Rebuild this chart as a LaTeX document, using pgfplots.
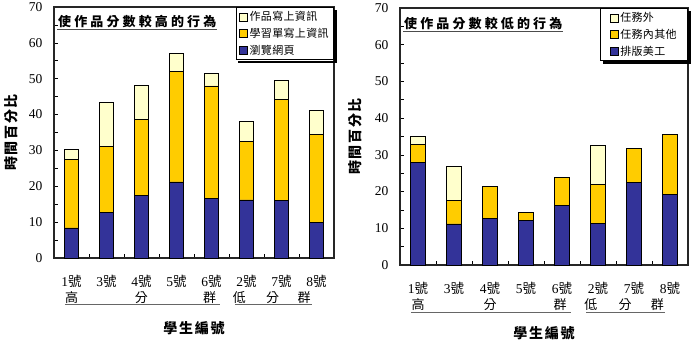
\documentclass[border=0pt]{standalone}
\usepackage{fontspec}
\setmainfont{Liberation Serif}
\newfontfamily\cjk{Noto Sans CJK TC}
\newfontfamily\cjktitle[LetterSpace=24]{Noto Sans CJK TC}
\newfontfamily\cjklab[LetterSpace=12]{Noto Sans CJK TC}
\newfontfamily\cjkleg[LetterSpace=3]{Noto Sans CJK TC}
\usepackage{pgfplots}
\usepackage{pgfplotstable}
\pgfplotsset{compat=1.18}

\definecolor{navy}{RGB}{51,51,153}
\definecolor{gold}{RGB}{255,204,0}
\definecolor{cream}{RGB}{255,255,204}

\newcommand\hao{{\cjk 號}}

% time percentages per student: base activity, other on-task, extra
\pgfplotstableread{
x base mid top
0 8.4  19.1 2.7
1 12.8 18.4 12.3
2 17.4 21.2 9.5
3 21.2 30.8 5.0
4 16.7 31.3 3.4
5 16.2 16.2 5.6
6 16.0 28.2 5.4
7 10.0 24.4 6.7
}\hightable

\pgfplotstableread{
x base mid top
0 28.0 4.9  2.1
1 11.2 6.3  9.4
2 12.6 8.8  0
3 12.1 2.3  0
4 16.3 7.5  0
5 11.3 10.7 10.6
6 22.5 9.3  0
7 19.3 16.2 0
}\lowtable

\tikzset{
  rowtext/.style={font=\cjk\fontsize{13}{13}\selectfont},
  charttitle/.style={anchor=west, inner sep=1pt,
    font=\cjktitle\bfseries\fontsize{13}{13}\selectfont,
    append after command={(\tikzlastnode.south west)
      edge[line width=0.8pt, black!70] (\tikzlastnode.south east)}},
}

\pgfplotsset{
  stackbars/.style={
    scale only axis,
    anchor=south west,
    ybar stacked, bar width=0.4,
    xmin=-0.5, xmax=7.5, ymin=0, ymax=70,
    ytick={0,10,...,70}, minor y tick num=1,
    xtick={0,...,7},
    xticklabels={1\hao,3\hao,4\hao,5\hao,6\hao,2\hao,7\hao,8\hao},
    minor xtick={0.5,1.5,...,6.5},
    tick align=inside, xtick pos=bottom, ytick pos=left,
    major tick length=4pt, minor tick length=4pt,
    major x tick style={draw=none},
    tick style={line width=0.6pt, black},
    axis line style={line width=1.2pt, black!85},
    clip=false,
    /pgf/number format/assume math mode=true,
    ticklabel style={font=\fontsize{13.5}{13.5}\selectfont},
    yticklabel style={xshift=-8pt},
    xticklabel style={yshift=-14pt},
    reverse legend,
    legend cell align=left,
    legend style={at={(1,1)}, anchor=north east, draw=black, line width=0.8pt,
      fill=white, font=\cjkleg\fontsize{11}{13}\selectfont,
      row sep=2pt, inner xsep=3pt, inner ysep=2pt},
    legend image code/.code={
      \draw[#1, line width=0.5pt] (0pt,-4pt) rectangle (8pt,4pt);},
    every axis plot/.append style={draw=black, line width=0.7pt},
  },
}

% dark strip along the right and bottom edge of a legend box
\newcommand\legshadow[1]{%
  \fill[black] ([xshift=0.4pt, yshift=-2.6pt]#1.north east) rectangle ([xshift=2.8pt, yshift=-2.8pt]#1.south east);
  \fill[black] ([xshift=2.6pt, yshift=-0.4pt]#1.south west) rectangle ([xshift=2.8pt, yshift=-2.8pt]#1.south east);}

\begin{document}
\begin{tikzpicture}
\useasboundingbox (0,0) rectangle (695pt,344pt);

% ---------- behaviours that raise the score ----------
\begin{axis}[stackbars, at={(54pt,86pt)}, width=280pt, height=251pt,
  legend style={name=legA}]
  \addplot[fill=navy]  table[x=x, y=base] {\hightable};
  \addlegendentry{瀏覽網頁}
  \addplot[fill=gold]  table[x=x, y=mid]  {\hightable};
  \addlegendentry{學習單寫上資訊}
  \addplot[fill=cream] table[x=x, y=top]  {\hightable};
  \addlegendentry{作品寫上資訊}

  \node[charttitle] at ([xshift=3pt, yshift=-15pt]rel axis cs:0,1) {使作品分數較高的行為};

  \node[rowtext] at ([yshift=-40pt]axis cs:0,0) {高};
  \node[rowtext] at ([yshift=-40pt]axis cs:2,0) {分};
  \node[rowtext] at ([yshift=-40pt]axis cs:3.95,0) {群};
  \node[rowtext] at ([yshift=-40pt]axis cs:4.8,0) {低};
  \node[rowtext] at ([yshift=-40pt]axis cs:5.75,0) {分};
  \node[rowtext] at ([yshift=-40pt]axis cs:6.65,0) {群};
  \draw[line width=0.8pt, black!60] ([yshift=-46pt]axis cs:-0.19,0) -- ([yshift=-46pt]axis cs:4.24,0);
  \draw[line width=0.8pt, black!60] ([yshift=-46pt]axis cs:4.67,0) -- ([yshift=-46pt]axis cs:6.87,0);

  \node[font=\cjklab\bfseries\fontsize{14}{14}\selectfont] at ([yshift=-70pt]axis cs:3.5,0) {學生編號};
  \node[rotate=90, font=\cjklab\bfseries\fontsize{14}{14}\selectfont]
    at ([xshift=-43pt]rel axis cs:0,0.5) {時間百分比};
\end{axis}
\legshadow{legA}

% ---------- behaviours that lower the score ----------
\begin{axis}[stackbars, at={(400pt,79pt)}, width=288pt, height=257pt,
  legend style={name=legB, inner xsep=9pt}]
  \addplot[fill=navy]  table[x=x, y=base] {\lowtable};
  \addlegendentry{排版美工}
  \addplot[fill=gold]  table[x=x, y=mid]  {\lowtable};
  \addlegendentry{任務內其他}
  \addplot[fill=cream] table[x=x, y=top]  {\lowtable};
  \addlegendentry{任務外}

  \node[charttitle] at ([xshift=3pt, yshift=-16pt]rel axis cs:0,1) {使作品分數較低的行為};

  \node[rowtext] at ([yshift=-40pt]axis cs:0,0) {高};
  \node[rowtext] at ([yshift=-40pt]axis cs:2,0) {分};
  \node[rowtext] at ([yshift=-40pt]axis cs:3.95,0) {群};
  \node[rowtext] at ([yshift=-40pt]axis cs:4.8,0) {低};
  \node[rowtext] at ([yshift=-40pt]axis cs:5.75,0) {分};
  \node[rowtext] at ([yshift=-40pt]axis cs:6.65,0) {群};
  \draw[line width=0.8pt, black!60] ([yshift=-47pt]axis cs:-0.19,0) -- ([yshift=-47pt]axis cs:4.24,0);
  \draw[line width=0.8pt, black!60] ([yshift=-47pt]axis cs:4.67,0) -- ([yshift=-47pt]axis cs:6.87,0);

  \node[font=\cjklab\bfseries\fontsize{14}{14}\selectfont] at ([yshift=-68pt]axis cs:3.5,0) {學生編號};
  \node[rotate=90, font=\cjklab\bfseries\fontsize{14}{14}\selectfont]
    at ([xshift=-45pt]rel axis cs:0,0.5) {時間百分比};
\end{axis}
\legshadow{legB}
\end{tikzpicture}
\end{document}
